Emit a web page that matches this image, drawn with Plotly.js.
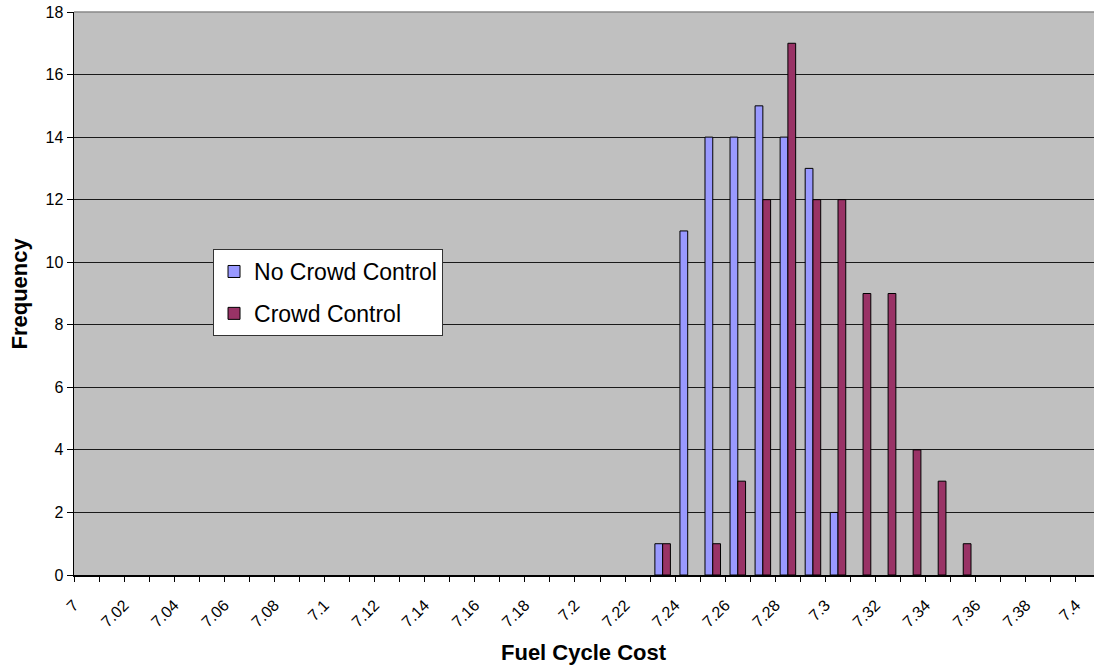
<!DOCTYPE html>
<html>
<head>
<meta charset="utf-8">
<script src="https://cdn.plot.ly/plotly-3.0.1.min.js"></script>
<style>html,body{margin:0;padding:0;background:#fff;}#chart{width:1094px;height:668px;}</style>
</head>
<body>
<div id="chart"></div>
<script>
// Bin lower edges (Fuel Cycle Cost) and frequencies
const bins = [7.23, 7.24, 7.25, 7.26, 7.27, 7.28, 7.29, 7.30, 7.31, 7.32, 7.33, 7.34, 7.35];
const noCrowdControl = [1, 11, 14, 14, 15, 14, 13, 2, 0, 0, 0, 0, 0];
const crowdControl   = [1, 0, 1, 3, 12, 17, 12, 12, 9, 9, 4, 3, 1];
const binWidth = 0.01;
const tickLabels = ['7','7.02','7.04','7.06','7.08','7.1','7.12','7.14','7.16','7.18','7.2',
                    '7.22','7.24','7.26','7.28','7.3','7.32','7.34','7.36','7.38','7.4'];
const seriesNames = ['No Crowd Control', 'Crowd Control'];

const centers = bins.map(b => b + binWidth / 2);
const barW = 0.0031;
const font = 'Liberation Sans, Arial, sans-serif';
const outline = vals => vals.map(v => v ? 1 : 0);

const traces = [
  {type: 'bar', name: seriesNames[0], x: centers, y: noCrowdControl,
   width: barW, offset: -barW, legendgroup: 'a',
   marker: {color: '#9999FF', line: {color: '#000000', width: outline(noCrowdControl)}}},
  {type: 'bar', name: seriesNames[1], x: centers, y: crowdControl,
   width: barW, offset: 0, legendgroup: 'b',
   marker: {color: '#993366', line: {color: '#000000', width: outline(crowdControl)}}}
];

const layout = {
  width: 1094, height: 668,
  margin: {l: 74, r: 0, t: 12, b: 93},
  paper_bgcolor: '#FFFFFF',
  plot_bgcolor: '#C0C0C0',
  font: {family: font, size: 16, color: '#000'},
  barmode: 'overlay',
  showlegend: true,
  legend: {
    x: 0.1363, y: 0.579, xanchor: 'left', yanchor: 'top',
    bgcolor: '#FFFFFF', bordercolor: '#333333', borderwidth: 1,
    font: {family: font, size: 23, color: '#000'},
    traceorder: 'grouped', tracegroupgap: 9,
    entrywidth: 235, entrywidthmode: 'pixels'
  },
  xaxis: {
    range: [7, 7.4072],
    tickmode: 'array',
    tickvals: tickLabels.map(Number),
    ticktext: tickLabels,
    tickangle: -45,
    ticks: 'outside', ticklen: 5, tickcolor: '#000',
    ticklabelstandoff: 8,
    minor: {tick0: 7, dtick: 0.01, ticks: 'outside', ticklen: 5, tickcolor: '#000', showgrid: false},
    showgrid: false, zeroline: false,
    showline: true, linecolor: '#000', linewidth: 1.5,
    tickfont: {family: font, size: 16},
    automargin: false
  },
  yaxis: {
    range: [0, 18], dtick: 2, tick0: 0,
    ticks: 'outside', ticklen: 6, tickcolor: '#000',
    showgrid: true, gridcolor: '#1a1a1a', gridwidth: 1,
    zeroline: false,
    showline: true, linecolor: '#000', linewidth: 1.5,
    tickfont: {family: font, size: 16},
    automargin: false
  },
  shapes: [
    {type: 'line', xref: 'paper', yref: 'paper', x0: 0, x1: 1, y0: 1, y1: 1,
     line: {color: '#888888', width: 1.5}}
  ],
  annotations: [
    {text: '<b>Fuel Cycle Cost</b>', xref: 'paper', yref: 'paper', x: 0.5, y: -77/563,
     xanchor: 'center', yanchor: 'middle', showarrow: false,
     font: {family: font, size: 22, color: '#000'}},
    {text: '<b>Frequency</b>', xref: 'paper', yref: 'paper', x: -55/1020, y: 0.5,
     xanchor: 'center', yanchor: 'middle', textangle: -90, showarrow: false,
     font: {family: font, size: 22, color: '#000'}}
  ]
};

Plotly.newPlot('chart', traces, layout, {displayModeBar: false, staticPlot: true});
</script>
</body>
</html>
